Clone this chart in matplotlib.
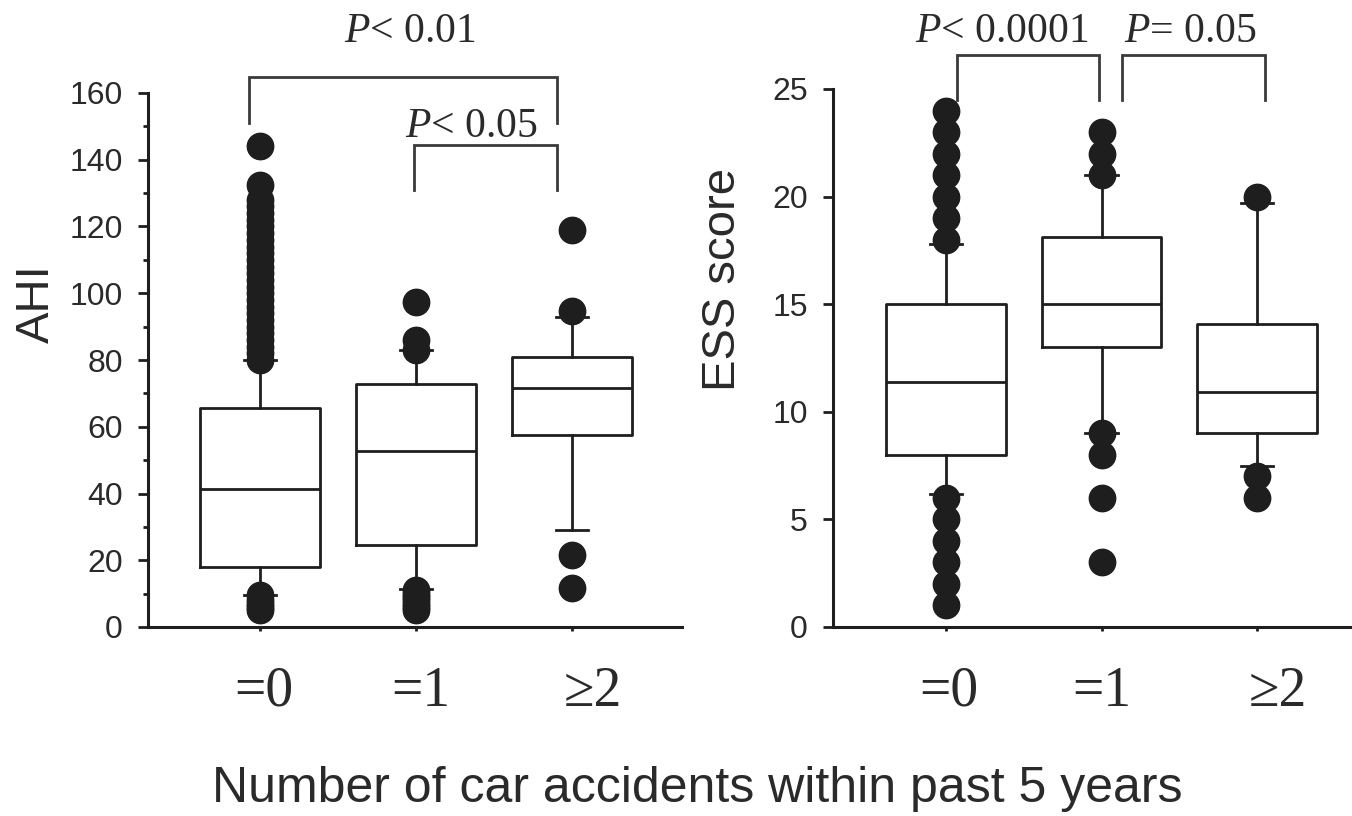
import matplotlib
matplotlib.use("Agg")
import matplotlib.pyplot as plt
from matplotlib.ticker import MultipleLocator
from matplotlib.transforms import ScaledTranslation

plt.rcParams["mathtext.fontset"] = "custom"
plt.rcParams["mathtext.it"] = "Liberation Serif:italic"
plt.rcParams["mathtext.rm"] = "Liberation Serif"

# ---- data -------------------------------------------------------------
groups = ["=0", "=1", "\u22652"]

ahi_q1 = [18.0, 24.5, 57.5]
ahi_med = [41.4, 52.7, 71.5]
ahi_q3 = [65.7, 72.9, 80.8]
ahi_whislo = [9.5, 11.3, 29.0]
ahi_whishi = [80.0, 83.0, 93.0]
ahi_fliers = [
    [5, 6, 7, 8, 9.5,
     80, 82, 84, 86, 88, 90, 92, 94, 96, 98, 100, 102, 104, 106, 108,
     110, 112, 114, 116, 118, 120, 122, 124, 126, 128, 132.5, 144],
    [5, 6, 7, 8, 9, 10, 11, 83, 86, 97.5],
    [11.6, 21.7, 94.6, 119],
]

ess_q1 = [8.0, 13.0, 9.0]
ess_med = [11.4, 15.0, 10.9]
ess_q3 = [15.0, 18.1, 14.1]
ess_whislo = [6.2, 9.0, 7.5]
ess_whishi = [17.8, 21.0, 19.7]
ess_fliers = [
    [1, 2, 3, 4, 5, 6, 18, 19, 20, 21, 22, 23, 24],
    [3, 6, 8, 9, 21, 22, 23],
    [6, 7, 20],
]

ahi_brackets = [  # (x_left, x_right, y_top, y_bottom, label, text_x, text_y)
    (0.93, 2.904, 164.8, 151.0, r"$P$< 0.01", 1.96, 178.3),
    (1.99, 2.904, 144.4, 130.9, r"$P$< 0.05", 2.353, 150.0),
]
ess_brackets = [
    (1.071, 1.984, 26.58, 24.49, r"$P$< 0.0001", 1.36, 27.65),
    (2.132, 3.051, 26.58, 24.49, r"$P$= 0.05", 2.569, 27.65),
]

# horizontal nudges (pixels) of the category labels under each panel
ahi_label_shift = [4, 5, 21]
ess_label_shift = [3, 0, 21]

INK = "#1e1e1e"
TXT = "#2a2a2a"


def stats_for(q1, med, q3, lo, hi, fl):
    return [dict(q1=a, med=b, q3=c, whislo=d, whishi=e, fliers=f)
            for a, b, c, d, e, f in zip(q1, med, q3, lo, hi, fl)]


fig = plt.figure(figsize=(13.52, 8.16), dpi=100)
ax1 = fig.add_axes([148 / 1352, 1 - 627 / 816, 534 / 1352, 534 / 816])
ax2 = fig.add_axes([833 / 1352, 1 - 627 / 816, 519 / 1352, 538 / 816])

lw = 2.0
common = dict(
    positions=[1, 2, 3], widths=0.77, capwidths=0.21, showfliers=True,
    boxprops=dict(color=INK, linewidth=lw),
    whiskerprops=dict(color=INK, linewidth=lw),
    capprops=dict(color=INK, linewidth=lw),
    medianprops=dict(color=INK, linewidth=lw),
    flierprops=dict(marker="o", markerfacecolor=INK, markeredgecolor=INK,
                    markersize=19, linestyle="none"),
)

b1 = ax1.bxp(stats_for(ahi_q1, ahi_med, ahi_q3, ahi_whislo, ahi_whishi,
                       ahi_fliers), **common)
b2 = ax2.bxp(stats_for(ess_q1, ess_med, ess_q3, ess_whislo, ess_whishi,
                       ess_fliers), **common)
for b in (b1, b2):
    for f in b["fliers"]:
        f.set_clip_on(False)

ax1.set_xlim(0.282, 3.705)
ax1.set_ylim(0, 160)
ax1.set_yticks(range(0, 161, 20))
ax1.yaxis.set_minor_locator(MultipleLocator(10))

ax2.set_xlim(0.273, 3.611)
ax2.set_ylim(0, 25)
ax2.set_yticks(range(0, 26, 5))

for ax, shifts in ((ax1, ahi_label_shift), (ax2, ess_label_shift)):
    for s in ("top", "right"):
        ax.spines[s].set_visible(False)
    for s in ("left", "bottom"):
        ax.spines[s].set_linewidth(2.2)
        ax.spines[s].set_color(INK)
    ax.set_xticks([1, 2, 3])
    ax.set_xticklabels(groups, family="Liberation Serif", fontsize=40,
                       color=TXT)
    ax.tick_params(axis="x", length=3, width=2, color=INK, pad=25)
    ax.tick_params(axis="y", which="major", length=7, width=2, color=INK,
                   pad=11, labelsize=23, labelcolor=TXT)
    ax.tick_params(axis="y", which="minor", length=3.5, width=2, color=INK)
    for lab in ax.get_yticklabels():
        lab.set_family("Liberation Sans")
    for tick, dx in zip(ax.xaxis.get_major_ticks(), shifts):
        lab = tick.label1
        lab.set_transform(lab.get_transform()
                          + ScaledTranslation(dx / 100, 0,
                                              fig.dpi_scale_trans))

for ax, brs in ((ax1, ahi_brackets), (ax2, ess_brackets)):
    for xl, xr, yt, yb, lab, tx, ty in brs:
        ax.plot([xl, xl, xr, xr], [yb, yt, yt, yb], color="#3a3a3a",
                linewidth=2.0, clip_on=False, solid_joinstyle="miter")
        ax.text(tx, ty, lab, ha="center", va="center", fontsize=30,
                family="Liberation Serif", color=TXT, clip_on=False)

ax1.set_ylabel("AHI", family="Liberation Sans", fontsize=34, color=TXT)
ax1.yaxis.set_label_coords(-0.208, 0.605)
ax1.yaxis.label.set_verticalalignment("center")

ax2.set_ylabel("ESS score", family="Liberation Sans", fontsize=34,
               color=TXT)
ax2.yaxis.set_label_coords(-0.212, 0.645)
ax2.yaxis.label.set_verticalalignment("center")

fig.text(697 / 1352, 1 - 789 / 816,
         "Number of car accidents within past 5 years",
         ha="center", va="center", fontsize=36, family="Liberation Sans",
         color=TXT)

fig.savefig("out.png", dpi=100, facecolor="white")
